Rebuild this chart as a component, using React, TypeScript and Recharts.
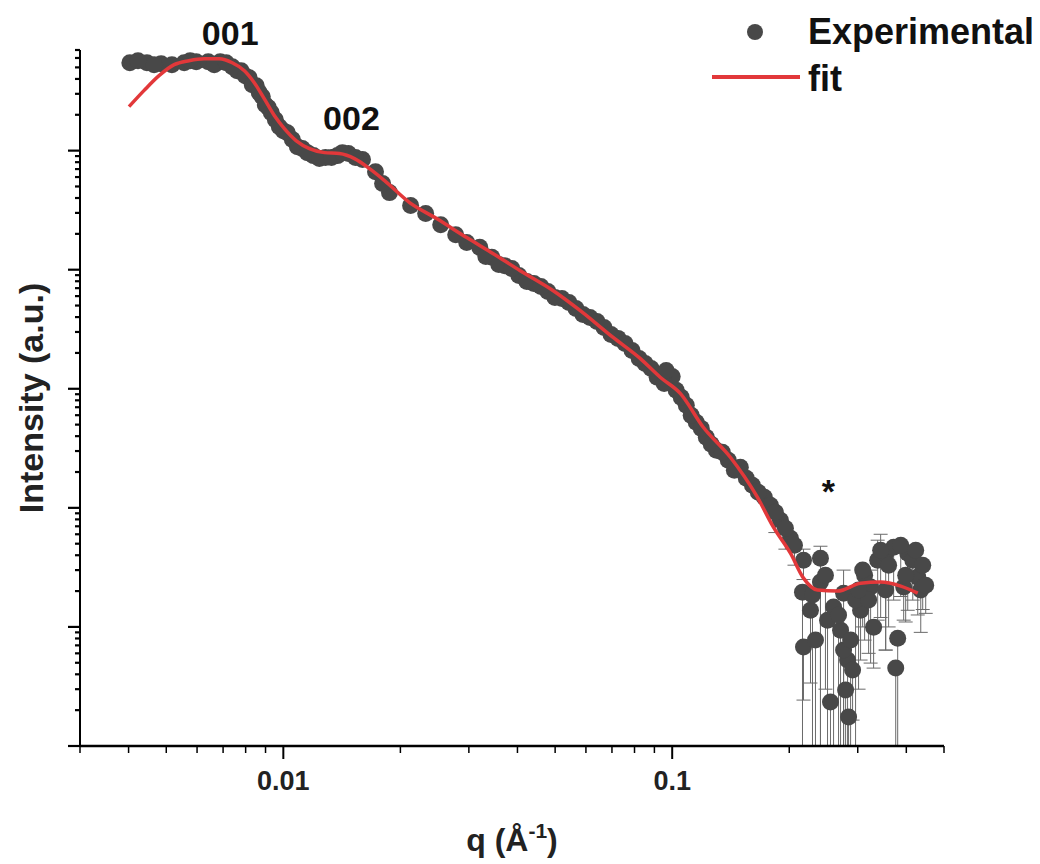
import React from "react";
import {
  ComposedChart,
  Scatter,
  Line,
  XAxis,
  YAxis,
  ErrorBar,
  ReferenceDot,
  Legend,
} from "recharts";

const FONT = '"Liberation Sans", Arial, Helvetica, sans-serif';
const DOT = "#484848";
const RED = "#e2383a";

// experimental points on the smooth part of the curve, q in 1/Å, intensity in a.u.
const qExp = [
  0.00403, 0.00446, 0.00485, 0.00517, 0.00556, 0.00597, 0.00641, 0.00688, 0.00739, 0.00779,
  0.00817, 0.00852, 0.00883, 0.00915, 0.00954, 0.01, 0.01055, 0.01119, 0.01195, 0.01283,
  0.01378, 0.0147, 0.01598, 0.01726, 0.01875, 0.02125, 0.02323, 0.02539, 0.02775, 0.02962,
  0.032, 0.03437, 0.03712, 0.04033, 0.04408, 0.0479, 0.05205, 0.05656, 0.06147, 0.06679,
  0.07258, 0.07885, 0.08519, 0.09149, 0.1, 0.1024, 0.1087, 0.1153, 0.1224, 0.1299,
  0.1394, 0.1497, 0.1608, 0.1726,
  0.004229, 0.004651, 0.005759, 0.006643, 0.007129, 0.007609, 0.00798, 0.008319, 0.008671, 0.008987,
  0.009314, 0.009765, 0.01024, 0.01087, 0.01153, 0.01238, 0.0133, 0.01419, 0.01533, 0.018,
  0.03317, 0.03581, 0.03869, 0.04229, 0.04596, 0.04994, 0.05426, 0.05896, 0.06407, 0.06963,
  0.07565, 0.08222, 0.08829, 0.09537, 0.0965, 0.1055, 0.1119, 0.1188, 0.126, 0.1346,
  0.1445, 0.1551, 0.1665, 0.1789, 0.1898, 0.2014,
];
const iExp = [
  547000, 547000, 537000, 527000, 547000, 558000, 558000, 558000, 507000, 469000,
  410000, 351000, 284000, 230000, 182000, 147000, 124000, 104000, 90800, 87400,
  90800, 94400, 84100, 66600, 44400, 34600, 29600, 23900, 19700, 16900,
  15400, 12700, 10800, 8940, 7660, 6560, 5730, 4730, 3970, 3270,
  2650, 2100, 1630, 1250, 1270, 970, 726, 523, 391, 304,
  251, 219, 155, 123,
  569000, 527000, 569000, 527000, 547000, 469000, 426000, 358000, 307000, 243000,
  208000, 159000, 141600, 108000, 96200, 85700, 87400, 96200, 87400, 52900,
  12900, 11050, 10240, 7960, 7230, 5846, 5306, 4209, 3676, 2860,
  2403, 1799, 1483, 1110, 1427, 847, 598, 465, 342, 293,
  207, 177, 135, 105, 78.7, 55.6,
];

// noisy high-q tail, with error bar ends
const qTail = [
  0.1842, 0.1955, 0.2063, 0.2176, 0.2163, 0.2176, 0.2268, 0.2406, 0.2406, 0.2509,
  0.2553, 0.26, 0.2759, 0.2825, 0.2842, 0.291, 0.3051, 0.3238, 0.3296, 0.3376,
  0.354, 0.3711, 0.3801, 0.3757, 0.3938, 0.4034, 0.428, 0.4156, 0.3125, 0.271,
  0.2336, 0.354, 0.2962, 0.3089, 0.4357,
  0.387, 0.4229, 0.4408, 0.3602, 0.3985, 0.3436, 0.4487, 0.32, 0.2295, 0.2678,
  0.2759, 0.2792, 0.2876, 0.2478, 0.3015,
];
const iTail = [
  91.8, 67.4, 48.6, 36.3, 19.6, 6.77, 13.8, 37.8, 23.8, 11.4,
  2.34, 14.7, 19.2, 5.27, 1.75, 4.34, 13.8, 21.6, 9.96, 36.3,
  41.6, 46.7, 8.05, 4.51, 21.6, 41.6, 26.2, 36.3, 27.2, 9.4,
  7.75, 20.4, 16.8, 30, 20.4,
  48.6, 44.1, 33.0, 33.0, 27.2, 44.1, 22.4, 16.8, 18.5, 12.6,
  6.39, 2.95, 7.75, 27.2, 20.4,
];
const loTail = [
  62, 45, 33, 25, 1, 2.43, 3.38, 1, 1, 1,
  1, 1, 1, 1, 1, 1.65, 5.27, 4.97, 4.51, 11.4,
  6.39, 16.8, 1, 1, 11.4, 13.8, 12.6, 16.8, 7.75, 1,
  1, 6.39, 1, 10, 9,
  18, 20, 14, 10, 11, 12, 13, 6, 1, 1,
  1, 1, 1, 3, 3,
];
const hiTail: (number | null)[] = [
  null, null, null, 45, null, null, null, 47.6, null, null,
  null, null, 30, null, null, null, null, 30, null, 53.5,
  null, null, null, null, null, null, null, null, null, null,
  null, null, null, null, null,
  null, null, null, null, null, 60, null, null, null, null,
  null, null, null, null, null,
];

// fitted model curve
const qFit = [
  0.00401, 0.00438, 0.00479, 0.00524, 0.00572, 0.00626, 0.00684, 0.00739, 0.00794, 0.00842,
  0.00893, 0.00948, 0.01006, 0.0108, 0.01167, 0.01276, 0.01394, 0.01524, 0.01666, 0.01821,
  0.02112, 0.02478, 0.02962, 0.03458, 0.04056, 0.04935, 0.05792, 0.07047, 0.08271, 0.09313,
  0.1049, 0.1202, 0.1411, 0.1656, 0.1821, 0.2014, 0.2176, 0.2364, 0.2663, 0.3051,
  0.3436, 0.387, 0.428,
];
const iFit = [
  234000, 319000, 426000, 527000, 569000, 591000, 591000, 547000, 469000, 372000,
  273000, 197000, 153000, 121000, 104000, 96200, 94400, 85700, 70600, 56000,
  36600, 26900, 18600, 13700, 9850, 6690, 4550, 2700, 1800, 1250,
  915, 475, 266, 123, 68.8, 41.6, 25.7, 20.4, 20.0, 23.3,
  23.8, 22.0, 19.2,
];

const xTicks = [
  0.003, 0.004, 0.005, 0.006, 0.007, 0.008, 0.009, 0.01,
  0.02, 0.03, 0.04, 0.05, 0.06, 0.07, 0.08, 0.09, 0.1,
  0.2, 0.3, 0.4, 0.5,
];
const xMajor = [0.01, 0.1];
const yDecades = [1, 10, 100, 1000, 10000, 100000];
const yMinor = [2, 3, 4, 5, 6, 7, 8, 9];

const yTicks = yDecades
  .flatMap((d) => [d, ...yMinor.map((m) => m * d)])
  .filter((v) => v <= 700000);

const expData = [
  ...qExp.map((q, k) => ({ q, i: iExp[k], err: [0, 0] })),
  ...qTail.map((q, k) => ({
    q,
    i: iTail[k],
    err: [iTail[k] - loTail[k], hiTail[k] != null ? (hiTail[k] as number) - iTail[k] : 0],
  })),
];
const fitData = qFit.map((q, k) => ({ q, i: iFit[k] }));

const XTick = (props: any) => {
  const { x, y, payload } = props;
  const major = xMajor.includes(payload.value);
  return (
    <g>
      <line x1={x} x2={x} y1={y} y2={y + (major ? 13 : 7)} stroke="#000" strokeWidth={major ? 2 : 1.5} />
      {major && (
        <text x={x} y={y + 44} textAnchor="middle" fontFamily={FONT} fontSize={27} fontWeight="bold" fill="#222">
          {payload.value}
        </text>
      )}
    </g>
  );
};

const YTick = (props: any) => {
  const { x, y, payload } = props;
  const major = yDecades.includes(payload.value);
  return <line x1={x - (major ? 12 : 5)} x2={x} y1={y} y2={y} stroke="#000" strokeWidth={2.2} />;
};

const LegendBox = () => (
  <svg width={330} height={100} style={{ display: "block" }}>
    <circle cx={47} cy={24} r={8} fill={DOT} />
    <text x={100} y={36} fontFamily={FONT} fontSize={36} fontWeight="bold" fill="#111">
      Experimental
    </text>
    <line x1={4} x2={92} y1={69} y2={69} stroke={RED} strokeWidth={4} />
    <text x={100} y={83} fontFamily={FONT} fontSize={36} fontWeight="bold" fill="#111">
      fit
    </text>
  </svg>
);

const renderDot = (p: any) => <circle cx={p.cx} cy={p.cy} r={8.5} fill={DOT} />;

const annotations = [
  { text: "001", q: 0.0073, i: 977000 },
  { text: "002", q: 0.01497, i: 189000 },
  { text: "*", q: 0.2523, i: 140 },
];

export default function App() {
  return (
    <ComposedChart width={1024} height={856} margin={{ top: 42, right: 88, bottom: 58, left: 52 }}>
      <XAxis
        dataKey="q"
        type="number"
        scale="log"
        domain={[0.003, 0.5]}
        allowDataOverflow
        ticks={xTicks}
        interval={0}
        tick={<XTick />}
        tickLine={false}
        tickSize={0}
        tickMargin={0}
        height={60}
        axisLine={{ stroke: "#000", strokeWidth: 2.5 }}
        label={{
          content: () => (
            <text x={504} y={843} textAnchor="middle" fontFamily={FONT} fontSize={32} fontWeight="bold" fill="#222">
              q (Å
              <tspan fontSize={21} dy={-13}>-1</tspan>
              <tspan dy={13}>)</tspan>
            </text>
          ),
        }}
      />
      <YAxis
        type="number"
        scale="log"
        domain={[1, 700000]}
        allowDataOverflow
        ticks={yTicks}
        interval={0}
        tick={<YTick />}
        tickLine={false}
        tickSize={0}
        tickMargin={0}
        width={20}
        axisLine={{ stroke: "#000", strokeWidth: 2 }}
        label={{
          content: () => (
            <text
              x={35}
              y={390}
              transform="rotate(-90 35 390)"
              textAnchor="middle"
              fontFamily={FONT}
              fontSize={34}
              fontWeight="bold"
              fill="#222"
            >
              Intensity (a.u.)
            </text>
          ),
        }}
      />
      <Legend
        layout="vertical"
        align="center"
        verticalAlign="middle"
        wrapperStyle={{ left: 700, top: 0, width: 330 }}
        content={<LegendBox />}
      />
      <Scatter name="Experimental" data={expData} dataKey="i" isAnimationActive={false} shape={renderDot}>
        <ErrorBar dataKey="err" direction="y" width={7} stroke="#6a6a6a" strokeWidth={1} />
      </Scatter>
      <Line
        name="fit"
        data={fitData}
        dataKey="i"
        type="monotone"
        stroke={RED}
        strokeWidth={3.5}
        dot={false}
        isAnimationActive={false}
        {...({ zIndex: 700 } as any)}
      />
      {annotations.map((a) => (
        <ReferenceDot
          key={a.text}
          x={a.q}
          y={a.i}
          r={0}
          fill="none"
          stroke="none"
          ifOverflow="visible"
          label={{ value: a.text, position: "center", fontSize: 34, fontWeight: "bold", fill: "#111", fontFamily: FONT }}
        />
      ))}
    </ComposedChart>
  );
}
